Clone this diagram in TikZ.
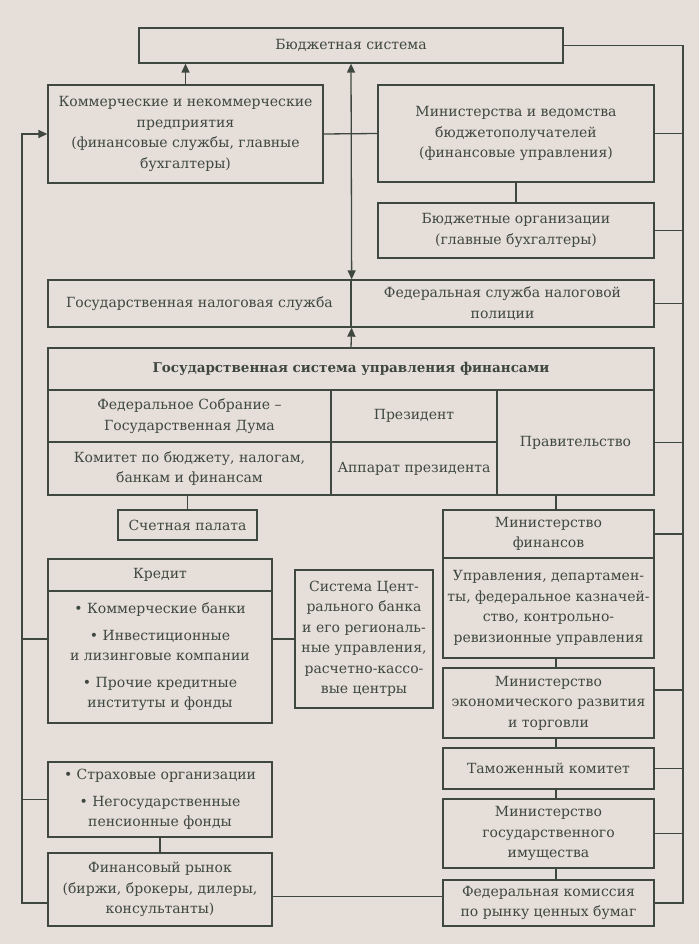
\documentclass[tikz,border=0pt]{standalone}
\usepackage{fontspec}
\setmainfont{DejaVu Serif}
\usepackage{xcolor}
\usetikzlibrary{arrows.meta,positioning,calc}

\definecolor{paper}{RGB}{230,222,216}
\definecolor{ink}{RGB}{62,72,62}

\begin{document}
\begin{tikzpicture}[
  x=1pt, y=-1pt,
  box/.style={rectangle, draw=ink, line width=1.3pt, inner sep=2pt,
    align=center, text=ink, font=\fontsize{14}{20.5}\selectfont},
  link/.style={draw=ink, line width=1.3pt},
  >={Triangle[length=9pt,width=8pt]}
]
  % page
  \fill[paper] (0,0) rectangle (699,944);
  \useasboundingbox (0,0) rectangle (699,944);

  % top level
  \node[box, minimum width=424pt, minimum height=35pt] (bs) at (351,45.5)
    {Бюджетная система};
  \node[box, minimum width=275pt, minimum height=98pt] (comm) at (185.5,134)
    {Коммерческие и некоммерческие\\предприятия\\(финансовые службы, главные\\бухгалтеры)};
  \node[box, minimum width=276pt, minimum height=97pt] (mins) at (516,133.5)
    {Министерства и ведомства\\бюджетополучателей\\(финансовые управления)};
  \node[box, minimum width=276pt, minimum height=55pt] (borg) at (516,230.5)
    {Бюджетные организации\\(главные бухгалтеры)};

  % tax services
  \node[box, minimum width=303pt, minimum height=47pt] (tax1) at (199.5,303.5)
    {Государственная налоговая служба};
  \node[box, minimum width=303pt, minimum height=47pt] (tax2) at (502.5,303.5)
    {Федеральная служба налоговой\\полиции};

  % state finance management
  \node[box, minimum width=606pt, minimum height=42pt] (gs) at (351,369)
    {\fontsize{13.5}{20}\selectfont\bfseries Государственная система управления финансами};
  \node[box, minimum width=283pt, minimum height=52pt] (fs) at (189.5,416)
    {Федеральное Собрание –\\Государственная Дума};
  \node[box, minimum width=283pt, minimum height=53pt] (kom) at (189.5,468.5)
    {Комитет по бюджету, налогам,\\банкам и финансам};
  \node[box, minimum width=166pt, minimum height=52pt] (pres) at (414,416)
    {Президент};
  \node[box, minimum width=166pt, minimum height=53pt] (app) at (414,468.5)
    {Аппарат президента};
  \node[box, minimum width=157pt, minimum height=105pt] (prav) at (575.5,442.5)
    {Правительство};
  \node[box, minimum width=139pt, minimum height=30pt] (sp) at (187.5,525)
    {Счетная палата};

  % credit side
  \node[box, minimum width=224pt, minimum height=32pt] (krh) at (160,575)
    {Кредит};
  \node[box, minimum width=224pt, minimum height=132pt] (krb) at (160,657)
    {• Коммерческие банки\\[6pt]• Инвестиционные\\и лизинговые компании\\[6pt]• Прочие кредитные\\институты и фонды};
  \node[box, minimum width=138pt, minimum height=138pt] (cb) at (364,639)
    {Система Цент-\\рального банка\\и его региональ-\\ные управления,\\расчетно-кассо-\\вые центры};
  \node[box, minimum width=224pt, minimum height=75pt] (ins) at (160,799.5)
    {• Страховые организации\\[6pt]• Негосударственные\\пенсионные фонды};
  \node[box, minimum width=224pt, minimum height=73pt] (fr) at (160,889.5)
    {Финансовый рынок\\(биржи, брокеры, дилеры,\\консультанты)};

  % ministries column
  \node[box, minimum width=211pt, minimum height=48pt] (mfh) at (548.5,534)
    {Министерство\\финансов};
  \node[box, minimum width=211pt, minimum height=100pt] (mfb) at (548.5,608)
    {Управления, департамен-\\ты, федеральное казначей-\\ство, контрольно-\\ревизионные управления};
  \node[box, minimum width=211pt, minimum height=70pt] (mer) at (548.5,703)
    {Министерство\\экономического развития\\и торговли};
  \node[box, minimum width=211pt, minimum height=41pt] (tam) at (548.5,768.5)
    {Таможенный комитет};
  \node[box, minimum width=211pt, minimum height=69pt] (mgi) at (548.5,833.5)
    {Министерство\\государственного\\имущества};
  \node[box, minimum width=211pt, minimum height=46pt] (fkcb) at (548.5,903)
    {Федеральная комиссия\\по рынку ценных бумаг};

  % buses
  \coordinate (lb) at (22,134);
  \coordinate (rb) at (683,903);
  \coordinate (mc) at (556,0);

  % arrows to the budget system
  \draw[link,->] (comm.north) -- (comm.north |- bs.south);
  \draw[link,<->] (bs.south) -- (tax1.north east);
  \draw[link,->] (gs.north) -- (tax1.south east);
  \draw[link] (comm.east) -- (mins.west);
  \draw[link] (mins.south) -- (borg.north);

  % left bus
  \draw[link,->] ([yshift=-13.5pt]fr.west) -| (lb) -- (comm.west);
  \draw[link] (cb.west -| lb) -- (cb.west -| krb.west);
  \draw[link] (cb.west -| krb.east) -- (cb.west);
  \draw[link] (ins.west -| lb) -- (ins.west);
  \draw[link] (ins.south) -- (fr.north);
  \draw[link] (kom.south -| sp.north) -- (sp.north);
  \draw[link] ([yshift=-7pt]fr.east) -- ([yshift=-7pt]fr.east -| fkcb.west);

  % right bus
  \draw[link] (bs.east) -| (rb) -- (fkcb.east);
  \foreach \n in {mins,borg,tax2,prav,mfh,tam,mgi}
    \draw[link] (\n.east) -- (\n.east -| rb);
  \draw[link] ([yshift=13pt]mer.east) -- ([yshift=13pt]mer.east -| rb);

  % ministries chain
  \draw[link] (prav.south -| mc) -- (mfh.north -| mc);
  \draw[link] (mfb.south -| mc) -- (mer.north -| mc);
  \draw[link] (mer.south -| mc) -- (tam.north -| mc);
  \draw[link] (tam.south -| mc) -- (mgi.north -| mc);
  \draw[link] (mgi.south -| mc) -- (fkcb.north -| mc);
\end{tikzpicture}
\end{document}
